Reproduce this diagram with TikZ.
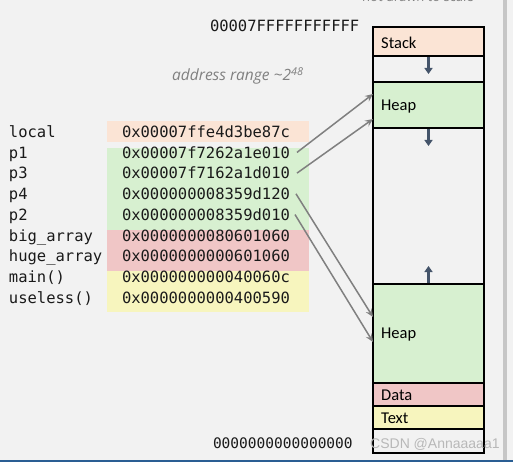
\documentclass[tikz,border=0pt]{standalone}
\usepackage{fontspec}
\setmonofont{DejaVu Sans Mono}
\setsansfont{Carlito}
\newfontfamily\osans{Open Sans}
\newfontfamily\lsans{Liberation Sans}
\usetikzlibrary{arrows.meta,calc}
\definecolor{bg}{HTML}{F2F2F2}
\definecolor{peach}{HTML}{FBE4D5}
\definecolor{lgreen}{HTML}{D7F0D0}
\definecolor{lred}{HTML}{F0C6C6}
\definecolor{lyellow}{HTML}{F7F5BE}
\definecolor{ptrgray}{HTML}{808080}
\definecolor{slate}{HTML}{44546A}
\definecolor{barg}{HTML}{C6C6C6}
\definecolor{blueline}{HTML}{2A5E93}
\definecolor{txt}{HTML}{1A1A1A}
\begin{document}
\begin{tikzpicture}[x=1pt,y=-1pt,
  mono/.style={inner sep=0pt,outer sep=0pt,anchor=base west,text=txt,font=\fontsize{15.5}{18}\selectfont\ttfamily},
  seg/.style={draw=black,line width=1.5pt,inner sep=0pt,outer sep=0pt,minimum width=111pt,anchor=north west},
  seglabel/.style={inner sep=0pt,anchor=west,text=black,font=\fontsize{16.5}{19}\selectfont\sffamily},
  ptr/.style={draw=ptrgray,line width=1.5pt,-{Stealth[length=8pt,width=7pt,inset=3pt]}},
  growarrow/.style={draw=slate,line width=2.5pt,-{Triangle[length=6pt,width=8pt]}},
  band/.style={inner sep=0pt,outer sep=0pt,anchor=north west,minimum width=202pt}
]
\useasboundingbox (0,0) rectangle (513,462);
\clip (0,0) rectangle (513,462);
\fill[bg] (0,0) rectangle (513,462);
\fill[barg] (503,0) rectangle (507,462);
\fill[blueline] (0,460) rectangle (513,462);

% top note (cut off at the top edge, as in the reference)
\node[inner sep=0pt,anchor=base west,text=ptrgray,font=\fontsize{13}{15}\selectfont\osans] (note) at (362,2) {not drawn to scale};

% address labels
\node[mono] (top) at (210,31.5) {00007FFFFFFFFFFF};
\node[mono,font=\fontsize{14.5}{17}\selectfont\ttfamily] (bot) at (213,448) {0000000000000000};
\node[inner sep=0pt,anchor=base west,text=ptrgray,font=\fontsize{15.5}{18}\selectfont\osans\itshape] (range) at (172,81) {address range \textasciitilde 2\textsuperscript{48}};

% colour bands
\node[band,fill=peach,minimum height=21pt] (bandlocal) at (107,121) {};
\node[band,fill=lgreen,minimum height=82pt] (bandheap) at (107,148) {};
\node[band,fill=lred,minimum height=41pt] (banddata) at (107,230) {};
\node[band,fill=lyellow,minimum height=41pt] (bandtext) at (107,271) {};

% table rows
\node[mono] (l1) at (9,137.5) {local};       \node[mono] (a1) at (122,137.5) {0x00007ffe4d3be87c};
\node[mono] (l2) at (9,158.2) {p1};          \node[mono] (a2) at (122,158.2) {0x00007f7262a1e010};
\node[mono] (l3) at (9,178.9) {p3};          \node[mono] (a3) at (122,178.9) {0x00007f7162a1d010};
\node[mono] (l4) at (9,199.6) {p4};          \node[mono] (a4) at (122,199.6) {0x000000008359d120};
\node[mono] (l5) at (9,220.3) {p2};          \node[mono] (a5) at (122,220.3) {0x000000008359d010};
\node[mono] (l6) at (9,241.0) {big\_array};  \node[mono] (a6) at (122,241.0) {0x0000000080601060};
\node[mono] (l7) at (9,261.7) {huge\_array}; \node[mono] (a7) at (122,261.7) {0x0000000000601060};
\node[mono] (l8) at (9,282.4) {main()};      \node[mono] (a8) at (122,282.4) {0x000000000040060c};
\node[mono] (l9) at (9,303.1) {useless()};   \node[mono] (a9) at (122,303.1) {0x0000000000400590};

% memory column
\node[seg,fill=peach,minimum height=29pt] (stack) at (373,27) {};
\node[seg,fill=bg,minimum height=26pt] (gap1) at (373,56) {};
\node[seg,fill=lgreen,minimum height=46pt] (heap1) at (373,82) {};
\node[seg,fill=bg,minimum height=156pt] (gap2) at (373,128) {};
\node[seg,fill=lgreen,minimum height=99pt] (heap2) at (373,284) {};
\node[seg,fill=lred,minimum height=23pt] (data) at (373,383) {};
\node[seg,fill=lyellow,minimum height=23pt] (text) at (373,406) {};
\node[seg,fill=bg,minimum height=24pt] (gap3) at (373,429) {};

\node[seglabel] (lstack) at ([xshift=8pt,yshift=-1pt]stack.west) {Stack};
\node[seglabel] (lheap1) at ([xshift=8pt,yshift=-1.5pt]heap1.west) {Heap};
\node[seglabel] (lheap2) at ([xshift=8pt,yshift=-1.5pt]heap2.west) {Heap};
\node[seglabel] (ldata) at ([xshift=8pt,yshift=-1pt]data.west) {Data};
\node[seglabel] (ltext) at ([xshift=8pt,yshift=-1pt]text.west) {Text};

% growth arrows
\coordinate (g1) at ([yshift=-18pt]stack.south);
\coordinate (g2) at ([yshift=-18pt]heap1.south);
\coordinate (g3) at ([yshift=18pt]heap2.north);
\draw[growarrow] ([yshift=-1pt]stack.south) -- (g1);
\draw[growarrow] ([yshift=-1pt]heap1.south) -- (g2);
\draw[growarrow] ([yshift=1pt]heap2.north) -- (g3);

% pointers
\coordinate (h1a) at ([yshift=-12pt]heap1.north west);
\coordinate (h1b) at ([yshift=-37pt]heap1.north west);
\coordinate (h2a) at ([yshift=-33pt]heap2.north west);
\coordinate (h2b) at ([yshift=-58pt]heap2.north west);
\draw[ptr] ([xshift=7pt]a2.east) -- (h1a);
\draw[ptr] ([xshift=7pt]a3.east) -- (h1b);
\draw[ptr] ([xshift=6pt]a4.east) -- (h2a);
\draw[ptr] ([xshift=5pt]a5.east) -- (h2b);

% watermark
\node[inner sep=0pt,anchor=base west,text=black!28,font=\fontsize{14}{16}\selectfont\lsans] (wm) at (370,448) {CSDN @Annaaaaa1};
\end{tikzpicture}
\end{document}
